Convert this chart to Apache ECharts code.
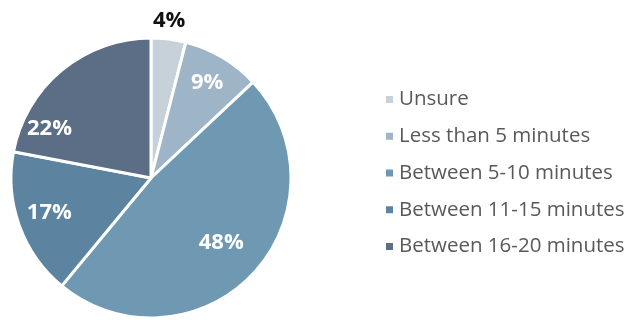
<!DOCTYPE html>
<html>
<head>
<meta charset="utf-8">
<script src="https://cdn.jsdelivr.net/npm/echarts@6/dist/echarts.min.js"></script>
<style>
  html, body { margin: 0; padding: 0; background: #fff; }
  #chart { width: 631px; height: 320px; }
</style>
</head>
<body>
<div id="chart"></div>
<script>
const categories = ['Unsure', 'Less than 5 minutes', 'Between 5-10 minutes', 'Between 11-15 minutes', 'Between 16-20 minutes']
const shares = [4, 9, 48, 17, 22]
const colors = ['#c6d1da', '#9db5c7', '#6f98b2', '#5c84a0', '#5c6e85']

// label nudges so the numbers sit where the original put them
const labelOffsets = [[9, -85], [19, -32], [17, 15], [-33, 10], [-55, 7]]

const chart = echarts.init(document.getElementById('chart'))

const data = categories.map(function (name, i) {
  return {
    name: name,
    value: shares[i],
    itemStyle: { color: colors[i] },
    label: {
      offset: labelOffsets[i],
      color: i === 0 ? '#111' : '#fff'
    }
  }
})

chart.setOption({
  backgroundColor: '#ffffff',
  animation: false,
  legend: {
    orient: 'vertical',
    left: 379,
    top: 84,
    itemWidth: 9,
    itemHeight: 9,
    itemGap: 15.75,
    icon: 'rect',
    textStyle: {
      fontFamily: 'Open Sans',
      fontSize: 20.5,
      color: '#595959'
    },
    data: categories
  },
  series: [{
    type: 'pie',
    center: [151, 178],
    radius: [0, 140],
    startAngle: 90,
    clockwise: true,
    itemStyle: { borderColor: '#fff', borderWidth: 3 },
    label: {
      position: 'inside',
      formatter: '{c}%',
      fontFamily: 'Open Sans',
      fontWeight: 'bold',
      fontSize: 22
    },
    labelLine: { show: false },
    emphasis: { disabled: true },
    data: data
  }]
})
</script>
</body>
</html>
